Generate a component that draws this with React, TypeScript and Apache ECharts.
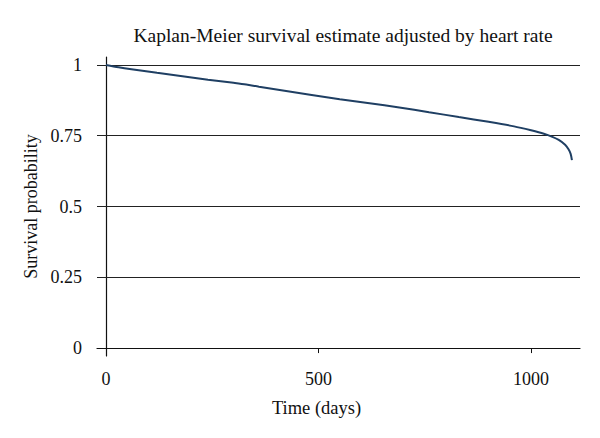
import React, { useEffect, useRef } from "react";
import * as echarts from "echarts";

const days = [0, 30, 60, 120, 180, 240, 300, 330, 360, 420, 480, 550, 620, 690, 760, 830, 900, 960, 1000, 1030, 1050, 1065, 1080, 1088, 1093, 1096];
const survival = [1.0, 0.992, 0.985, 0.972, 0.96, 0.948, 0.937, 0.931, 0.923, 0.909, 0.895, 0.879, 0.865, 0.85, 0.833, 0.816, 0.799, 0.783, 0.769, 0.757, 0.746, 0.735, 0.718, 0.702, 0.686, 0.664];
const yTicks = [0, 0.25, 0.5, 0.75, 1];
const gridValues = [0.25, 0.5, 0.75, 1];
const xTicks = [0, 500, 1000];

const FONT = "'Liberation Serif', 'DejaVu Serif', serif";

export default function App() {
  const ref = useRef<HTMLDivElement>(null);
  useEffect(() => {
    if (!ref.current) return;
    const chart = echarts.init(ref.current, null, { renderer: "svg" });
    chart.setOption({
      animation: false,
      backgroundColor: "#ffffff",
      title: {
        text: "Kaplan-Meier survival estimate adjusted by heart rate",
        left: 338,
        top: 20,
        textAlign: "center",
        textStyle: { fontFamily: FONT, fontSize: 19.5, fontWeight: "normal", color: "#111" },
      },
      grid: { left: 97, right: 20, top: 57, bottom: 82 },
      xAxis: {
        type: "value",
        min: -21,
        max: 1115,
        name: "Time (days)",
        nameLocation: "middle",
        nameGap: 42,
        nameTextStyle: { fontFamily: FONT, fontSize: 18.5, color: "#111", padding: [0, 44, 0, 0] },
        axisLine: { show: true, lineStyle: { color: "#111", width: 1.2 } },
        axisTick: { show: true, customValues: xTicks, length: 5, lineStyle: { color: "#111" } },
        axisLabel: {
          customValues: xTicks,
          margin: 14,
          fontFamily: FONT,
          fontSize: 18,
          color: "#111",
          formatter: (v: number) => String(v),
        },
        splitLine: { show: false },
      },
      yAxis: {
        type: "value",
        min: -0.028,
        max: 1.028,
        name: "Survival probability",
        nameLocation: "middle",
        nameGap: 57,
        nameTextStyle: { fontFamily: FONT, fontSize: 18, color: "#111" },
        axisLine: { show: true, lineStyle: { color: "#111", width: 1.2 } },
        axisTick: { show: true, customValues: yTicks, length: 5, lineStyle: { color: "#111" } },
        axisLabel: {
          customValues: yTicks,
          margin: 15,
          fontFamily: FONT,
          fontSize: 18,
          color: "#111",
          formatter: (v: number) => String(v),
        },
        splitLine: { show: false },
      },
      series: [
        {
          type: "line",
          data: days.map((d, i) => [d, survival[i]]),
          showSymbol: false,
          smooth: 0.3,
          lineStyle: { color: "#1f3f63", width: 2 },
          z: 3,
          markLine: {
            silent: true,
            symbol: "none",
            label: { show: false },
            lineStyle: { color: "#222", width: 1, type: "solid" },
            data: gridValues.map((v) => ({ yAxis: v })),
            z: 1,
          },
        },
      ],
    });
    return () => chart.dispose();
  }, []);
  return <div ref={ref} style={{ width: 600, height: 438, margin: -8 }} />;
}
